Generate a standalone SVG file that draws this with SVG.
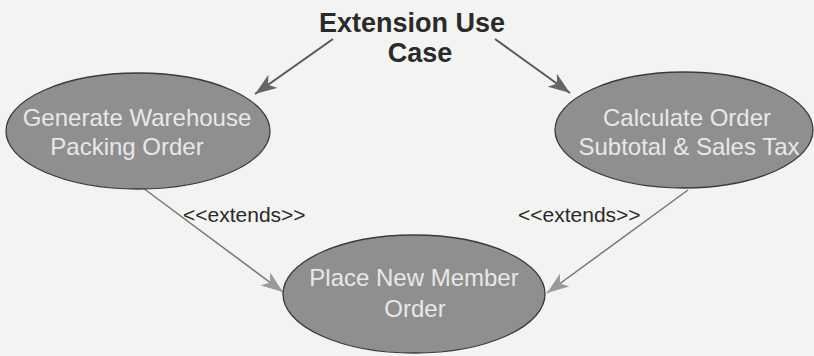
<svg xmlns="http://www.w3.org/2000/svg" width="814" height="356" viewBox="0 0 814 356">
<style>
.uc ellipse{fill:#8f8f8f;stroke:#3a3a3a;stroke-width:1.3}
.uc text{font-family:"Liberation Sans",Arial,sans-serif;font-size:24px;fill:#e8e8e8;text-anchor:middle}
.title{font-family:"Liberation Sans",Arial,sans-serif;font-size:27px;font-weight:bold;fill:#2a2a2a;text-anchor:middle}
.lbl{font-family:"Liberation Sans",Arial,sans-serif;font-size:21px;fill:#2a2a2a}
.c1{stroke:#555;stroke-width:2;fill:none}
.c2{stroke:#777;stroke-width:1.5;fill:none}
</style>
<defs>
<marker id="ah1" markerWidth="24" markerHeight="16" refX="22" refY="8" orient="auto" markerUnits="userSpaceOnUse">
<path d="M0,0 L22,8 L0,16 L6,8 Z" fill="#666"/>
</marker>
<marker id="ah2" markerWidth="24" markerHeight="16" refX="22" refY="8" orient="auto" markerUnits="userSpaceOnUse">
<path d="M0,0 L22,8 L0,16 L6,8 Z" fill="#9a9a9a"/>
</marker>
</defs>
<rect width="814" height="356" fill="#f3f3f1"/>
<g id="title">
<text class="title" x="412" y="32">Extension Use</text>
<text class="title" x="420" y="62">Case</text>
</g>
<g id="connectors">
<line class="c1" x1="333" y1="39" x2="255" y2="94" marker-end="url(#ah1)"/>
<line class="c1" x1="495" y1="39" x2="570" y2="93" marker-end="url(#ah1)"/>
<line class="c2" x1="143" y1="188" x2="283" y2="292" marker-end="url(#ah2)"/>
<line class="c2" x1="688" y1="190" x2="547" y2="293" marker-end="url(#ah2)"/>
<text class="lbl" x="183" y="222">&lt;&lt;extends&gt;&gt;</text>
<text class="lbl" x="518" y="222">&lt;&lt;extends&gt;&gt;</text>
</g>
<g id="generate" class="uc">
<ellipse cx="138" cy="131" rx="132" ry="58"/>
<text x="137" y="126">Generate Warehouse</text>
<text x="127" y="155">Packing Order</text>
</g>
<g id="calculate" class="uc">
<ellipse cx="684" cy="130" rx="129" ry="58"/>
<text x="687" y="126">Calculate Order</text>
<text x="689" y="155">Subtotal &amp; Sales Tax</text>
</g>
<g id="place" class="uc">
<ellipse cx="414" cy="294" rx="131" ry="59"/>
<text x="414" y="286">Place New Member</text>
<text x="415" y="317">Order</text>
</g>
</svg>
